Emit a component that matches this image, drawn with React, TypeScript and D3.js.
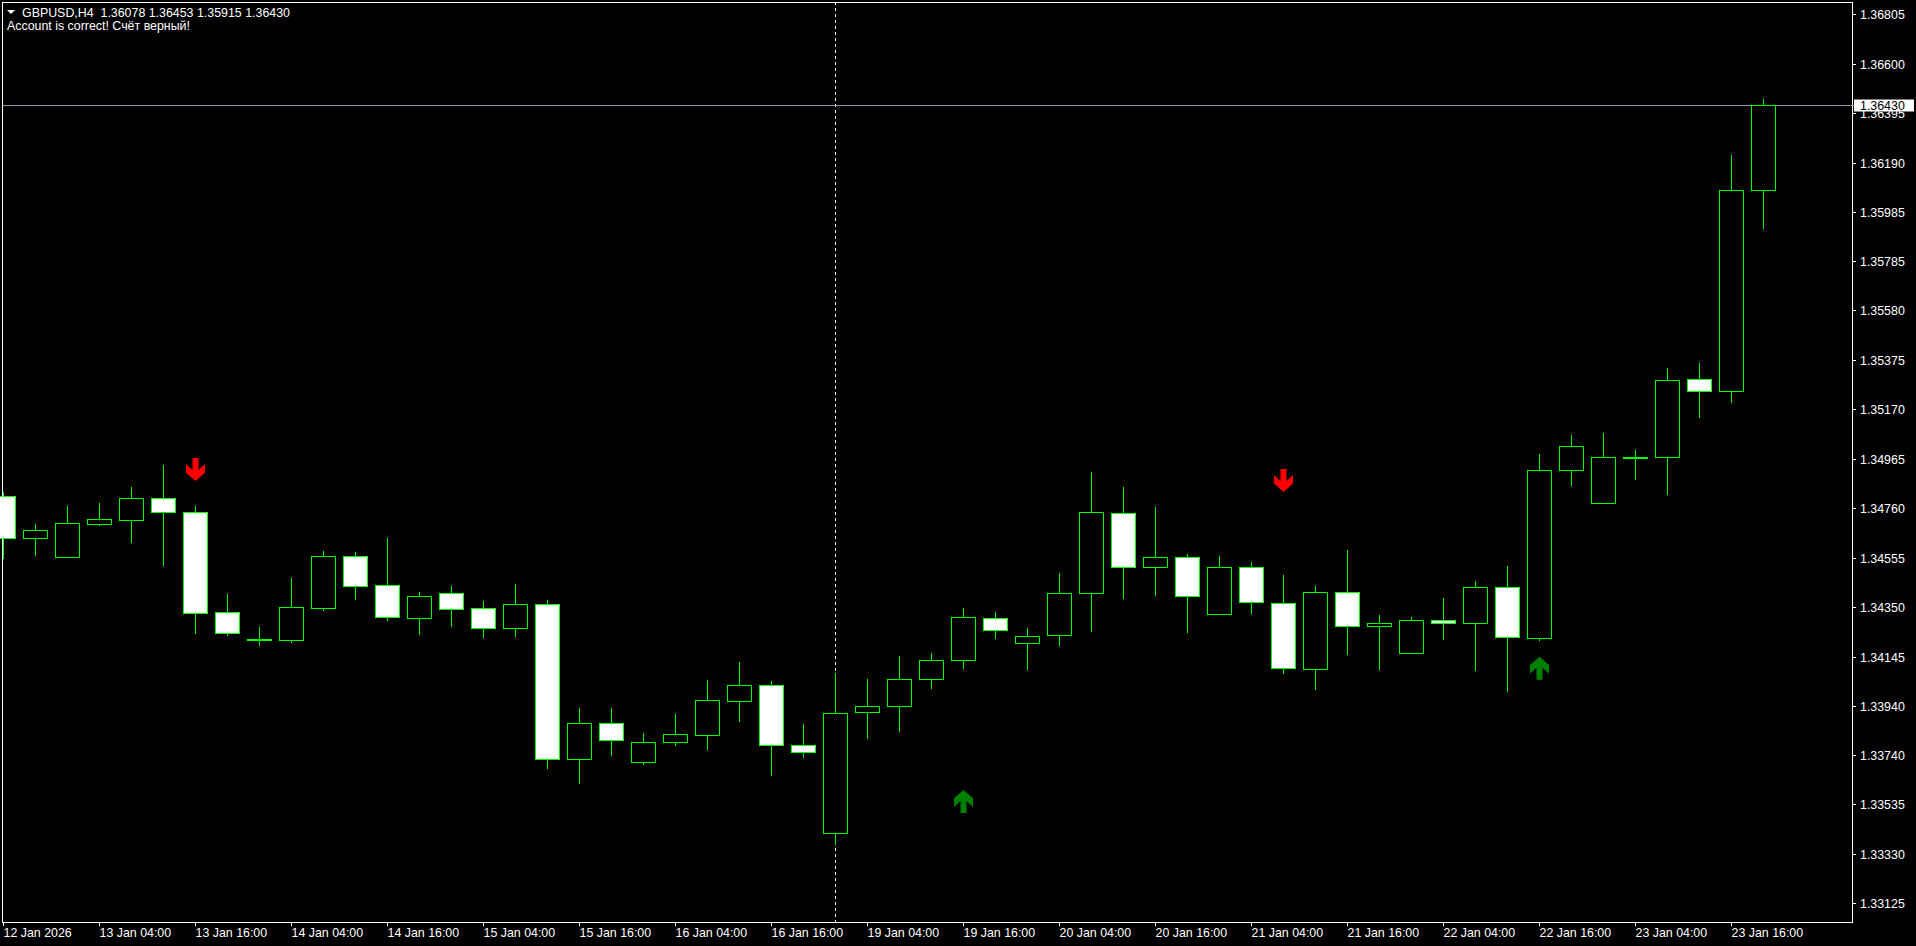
import React from "react";
import * as d3 from "d3";

// H4 bars, oldest first
const times = [
  "12 Jan 16:00", "12 Jan 20:00",
  "13 Jan 00:00", "13 Jan 04:00", "13 Jan 08:00", "13 Jan 12:00", "13 Jan 16:00", "13 Jan 20:00",
  "14 Jan 00:00", "14 Jan 04:00", "14 Jan 08:00", "14 Jan 12:00", "14 Jan 16:00", "14 Jan 20:00",
  "15 Jan 00:00", "15 Jan 04:00", "15 Jan 08:00", "15 Jan 12:00", "15 Jan 16:00", "15 Jan 20:00",
  "16 Jan 00:00", "16 Jan 04:00", "16 Jan 08:00", "16 Jan 12:00", "16 Jan 16:00", "16 Jan 20:00",
  "19 Jan 00:00", "19 Jan 04:00", "19 Jan 08:00", "19 Jan 12:00", "19 Jan 16:00", "19 Jan 20:00",
  "20 Jan 00:00", "20 Jan 04:00", "20 Jan 08:00", "20 Jan 12:00", "20 Jan 16:00", "20 Jan 20:00",
  "21 Jan 00:00", "21 Jan 04:00", "21 Jan 08:00", "21 Jan 12:00", "21 Jan 16:00", "21 Jan 20:00",
  "22 Jan 00:00", "22 Jan 04:00", "22 Jan 08:00", "22 Jan 12:00", "22 Jan 16:00", "22 Jan 20:00",
  "23 Jan 00:00", "23 Jan 04:00", "23 Jan 08:00", "23 Jan 12:00", "23 Jan 16:00", "23 Jan 20:00",
];

const open = [
  1.3481, 1.34636, 1.3456, 1.34694, 1.34713, 1.34802, 1.34744, 1.3433, 1.3422, 1.34216,
  1.34349, 1.34561, 1.34441, 1.34307, 1.34408, 1.34346, 1.34263, 1.34363, 1.33721, 1.3387,
  1.33709, 1.33792, 1.3382, 1.33961, 1.34027, 1.33779, 1.33415, 1.33916, 1.33943, 1.34052,
  1.34131, 1.34305, 1.34201, 1.34234, 1.34408, 1.34739, 1.34516, 1.34557, 1.34321, 1.34516,
  1.34367, 1.34094, 1.34412, 1.34272, 1.3416, 1.34297, 1.34284, 1.34433, 1.34222, 1.34917,
  1.34781, 1.34973, 1.34974, 1.35294, 1.35244, 1.36078,
];
const high = [
  1.34826, 1.34695, 1.3477, 1.34782, 1.34848, 1.34939, 1.3477, 1.34405, 1.34269, 1.34472,
  1.34583, 1.34579, 1.34637, 1.34414, 1.34439, 1.34376, 1.34447, 1.34381, 1.33934, 1.33934,
  1.3383, 1.33909, 1.34049, 1.34124, 1.34045, 1.33867, 1.34078, 1.34054, 1.34149, 1.34161,
  1.34347, 1.34331, 1.34265, 1.34492, 1.3491, 1.34848, 1.34766, 1.34571, 1.34563, 1.34538,
  1.34484, 1.34439, 1.34588, 1.34318, 1.3431, 1.34389, 1.34459, 1.34521, 1.34985, 1.35064,
  1.35072, 1.35001, 1.35341, 1.35362, 1.36223, 1.36453,
];
const low = [
  1.34549, 1.34564, 1.34558, 1.34688, 1.34618, 1.34523, 1.34241, 1.34233, 1.34191, 1.34204,
  1.34336, 1.34381, 1.34295, 1.34236, 1.3427, 1.34225, 1.34229, 1.33682, 1.3362, 1.33736,
  1.33699, 1.33777, 1.33761, 1.33877, 1.33653, 1.33728, 1.33368, 1.33806, 1.33835, 1.34013,
  1.34096, 1.3422, 1.34092, 1.34191, 1.34249, 1.34386, 1.34398, 1.34245, 1.34319, 1.34324,
  1.34075, 1.34006, 1.34154, 1.34092, 1.34158, 1.34216, 1.34088, 1.34001, 1.34212, 1.34854,
  1.34779, 1.34879, 1.34816, 1.35135, 1.35197, 1.35915,
];
const close = [
  1.34636, 1.34669, 1.34698, 1.34715, 1.34802, 1.34746, 1.34328, 1.34245, 1.34219, 1.3435,
  1.34561, 1.3444, 1.34311, 1.34396, 1.34345, 1.34263, 1.34363, 1.33721, 1.3387, 1.338,
  1.33792, 1.33825, 1.33965, 1.34027, 1.33779, 1.3375, 1.33912, 1.33941, 1.34052, 1.34131,
  1.34309, 1.34255, 1.3423, 1.34408, 1.34744, 1.34518, 1.34557, 1.34396, 1.34516, 1.34371,
  1.34098, 1.34412, 1.34272, 1.34284, 1.34297, 1.34284, 1.34433, 1.34226, 1.34917, 1.35017,
  1.34971, 1.34974, 1.3529, 1.35244, 1.36078, 1.3643,
];

// indicator arrows: bar time, direction, price at arrow tip
const signalTimes = ["13 Jan 16:00", "19 Jan 16:00", "21 Jan 08:00", "22 Jan 16:00"];
const signalDirs = ["down", "up", "down", "up"];
const signalPrices = [1.34873, 1.33594, 1.34828, 1.34146];

const priceTicks = [
  "1.36805", "1.36600", "1.36395", "1.36190", "1.35985", "1.35785", "1.35580",
  "1.35375", "1.35170", "1.34965", "1.34760", "1.34555", "1.34350", "1.34145",
  "1.33940", "1.33740", "1.33535", "1.33330", "1.33125",
];
const timeTickBars = [
  "12 Jan 16:00", "13 Jan 04:00", "13 Jan 16:00", "14 Jan 04:00", "14 Jan 16:00",
  "15 Jan 04:00", "15 Jan 16:00", "16 Jan 04:00", "16 Jan 16:00", "19 Jan 04:00",
  "19 Jan 16:00", "20 Jan 04:00", "20 Jan 16:00", "21 Jan 04:00", "21 Jan 16:00",
  "22 Jan 04:00", "22 Jan 16:00", "23 Jan 04:00", "23 Jan 16:00",
];
const timeTickLabels = [
  "12 Jan 2026", "13 Jan 04:00", "13 Jan 16:00", "14 Jan 04:00", "14 Jan 16:00",
  "15 Jan 04:00", "15 Jan 16:00", "16 Jan 04:00", "16 Jan 16:00", "19 Jan 04:00",
  "19 Jan 16:00", "20 Jan 04:00", "20 Jan 16:00", "21 Jan 04:00", "21 Jan 16:00",
  "22 Jan 04:00", "22 Jan 16:00", "23 Jan 04:00", "23 Jan 16:00",
];
const separatorBar = "19 Jan 00:00";
const symbol = "GBPUSD,H4";
const comment = "Account is correct! Счёт верный!";

const W = 1916;
const H = 946;
const FRAME_L = 2;
const FRAME_T = 2;
const FRAME_R = 1852;
const FRAME_B = 922;
const HALF_BODY = 12;
const LIME = "#00ff00";
const FONT = "'Liberation Sans', Arial, sans-serif";
const FS = 12.4;

const x = d3.scalePoint<string>().domain(times).range([3, 1763]);
const y = d3.scaleLinear().domain([1.36805, 1.33125]).range([14.3, 903.3]);

const downArrow = "M-3,0 L3,0 L3,12 L9.5,6 L9.5,14.7 L0,23 L-9.5,14.7 L-9.5,6 L-3,12 Z";
const upArrow = "M0,0 L9.5,8.3 L9.5,17 L3,11 L3,23 L-3,23 L-3,11 L-9.5,17 L-9.5,8.3 Z";

export default function App() {
  const last = close.length - 1;
  const lastY = Math.round(y(close[last])) + 0.5;
  const sepX = Math.round(x(separatorBar)!) + 0.5;

  return (
    <svg
      width={W}
      height={H}
      style={{ position: "fixed", left: 0, top: 0, display: "block", background: "#000" }}
      fontFamily={FONT}
    >
      <rect x={0} y={0} width={W} height={H} fill="#000" />

      {/* period separator */}
      <line
        x1={sepX}
        x2={sepX}
        y1={FRAME_T}
        y2={FRAME_B}
        stroke="#fff"
        strokeDasharray="3,3"
        shapeRendering="crispEdges"
      />

      {/* bid line */}
      <line
        x1={FRAME_L}
        x2={FRAME_R}
        y1={lastY}
        y2={lastY}
        stroke="#8a9aaa"
        shapeRendering="crispEdges"
      />

      {/* candles */}
      <g shapeRendering="crispEdges">
        {times.map((t, i) => {
          const cx = Math.round(x(t)!) + 0.5;
          const top = Math.round(y(Math.max(open[i], close[i])));
          const bot = Math.round(y(Math.min(open[i], close[i])));
          const bull = close[i] > open[i];
          return (
            <g key={t}>
              <line
                x1={cx}
                x2={cx}
                y1={Math.round(y(high[i]))}
                y2={Math.round(y(low[i]))}
                stroke={LIME}
              />
              <rect
                x={cx - HALF_BODY}
                y={top + 0.5}
                width={HALF_BODY * 2}
                height={Math.max(bot - top, 1)}
                fill={bull ? "#000" : "#fff"}
                stroke={LIME}
              />
            </g>
          );
        })}
      </g>

      {/* signal arrows */}
      {signalTimes.map((t, i) => (
        <path
          key={t}
          d={signalDirs[i] === "down" ? downArrow : upArrow}
          transform={`translate(${x(t)! + 0.5},${
            signalDirs[i] === "down" ? y(signalPrices[i]) - 23 : y(signalPrices[i])
          })`}
          fill={signalDirs[i] === "down" ? "#ff0000" : "#008000"}
        />
      ))}

      {/* frame */}
      <rect
        x={FRAME_L + 0.5}
        y={FRAME_T + 0.5}
        width={FRAME_R - FRAME_L}
        height={FRAME_B - FRAME_T}
        fill="none"
        stroke="#fff"
        shapeRendering="crispEdges"
      />

      {/* price axis */}
      <g fill="#fff" fontSize={FS}>
        {priceTicks.map((p) => {
          const ty = Math.round(y(+p)) + 0.5;
          return (
            <g key={p}>
              <line x1={FRAME_R} x2={FRAME_R + 4} y1={ty} y2={ty} stroke="#fff" shapeRendering="crispEdges" />
              <text x={FRAME_R + 8} y={ty} dominantBaseline="central">
                {p}
              </text>
            </g>
          );
        })}
      </g>

      {/* current price label */}
      <line x1={FRAME_R} x2={FRAME_R + 3} y1={lastY} y2={lastY} stroke="#8a9aaa" />
      <rect x={FRAME_R + 2} y={lastY - 6} width={60} height={12} fill="#fff" />
      <text x={FRAME_R + 8} y={lastY} dominantBaseline="central" fontSize={FS} fill="#000">
        {close[last].toFixed(5)}
      </text>

      {/* time axis */}
      <g fill="#fff" fontSize={FS}>
        {timeTickBars.map((t, i) => {
          const tx = Math.round(x(t)!) + 0.5;
          return (
            <g key={t}>
              <line x1={tx} x2={tx} y1={FRAME_B} y2={FRAME_B + 4} stroke="#fff" shapeRendering="crispEdges" />
              <text x={tx} y={937}>
                {timeTickLabels[i]}
              </text>
            </g>
          );
        })}
      </g>

      {/* header */}
      <polygon points="7,10 15,10 11,14" fill="#fff" />
      <text x={22} y={17} fontSize={FS} fill="#fff" style={{ whiteSpace: "pre" }}>
        {`${symbol}  ${open[last].toFixed(5)} ${high[last].toFixed(5)} ${low[last].toFixed(5)} ${close[last].toFixed(5)}`}
      </text>
      <text x={7} y={30} fontSize={FS} fill="#fff">
        {comment}
      </text>
    </svg>
  );
}
